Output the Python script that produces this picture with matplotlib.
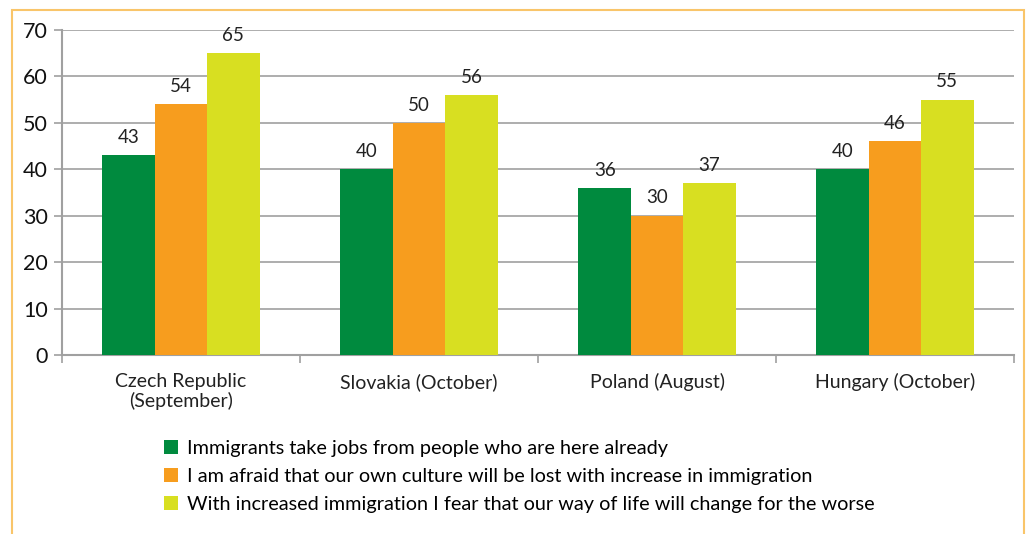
import numpy as np
import matplotlib.pyplot as plt
from matplotlib.patches import Rectangle

categories = ["Czech Republic\n(September)", "Slovakia (October)", "Poland (August)", "Hungary (October)"]
jobs = [43, 40, 36, 40]
culture = [54, 50, 30, 46]
way_of_life = [65, 56, 37, 55]
series_names = [
    "Immigrants take jobs from people who are here already",
    "I am afraid that our own culture will be lost with increase in immigration",
    "With increased immigration I fear that our way of life will change for the worse",
]
colors = ["#008A3E", "#F79D1E", "#D8DF21"]

plt.rcParams['font.family'] = ['Lato', 'DejaVu Sans']

fig = plt.figure(figsize=(10.27, 5.34), dpi=100)
fig.patches.append(Rectangle((12 / 1027, -0.05), (1024 - 12) / 1027, 1.05 - 10 / 534,
                             transform=fig.transFigure, fill=False,
                             edgecolor="#F9C56A", linewidth=1.5))

ax = fig.add_axes([62 / 1027, 1 - 355 / 534, (1014 - 62) / 1027, (355 - 30) / 534])

x = np.arange(len(categories))
w = 0.22
for i, (vals, name, c) in enumerate(zip([jobs, culture, way_of_life], series_names, colors)):
    bars = ax.bar(x + (i - 1) * w, vals, w, color=c, label=name, zorder=3)
    for b, v in zip(bars, vals):
        ax.text(b.get_x() + b.get_width() / 2, v + 2.0, str(v), ha="center", va="bottom",
                fontsize=13.5, color="#222222", zorder=4)

ax.set_xlim(-0.5, len(categories) - 0.5)
ax.set_ylim(0, 70)
ax.set_yticks(range(0, 71, 10))
ax.tick_params(axis="y", labelsize=15.5, length=6, color="#A0A0A0", width=1.2, pad=4,
               labelcolor="#111111")
ax.grid(axis="y", color="#A0A0A0", linewidth=1.2, zorder=0)
ax.set_xticks(x)
ax.set_xticklabels(categories, fontsize=14, color="#222222", linespacing=1.15)
ax.tick_params(axis="x", length=0, pad=13)
ax.set_xticks(np.arange(-0.5, len(categories)), minor=True)
ax.tick_params(axis="x", which="minor", length=6, color="#A0A0A0", width=1.2)
for s in ["top", "right"]:
    ax.spines[s].set_visible(False)
for s in ["left", "bottom"]:
    ax.spines[s].set_color("#A0A0A0")
    ax.spines[s].set_linewidth(1.5)

fig.legend(loc="upper left", bbox_to_anchor=(156 / 1027, 1 - 432 / 534), frameon=False,
           fontsize=14.3, handlelength=0.7, handleheight=0.7, handletextpad=0.45,
           labelspacing=0.55, borderaxespad=0)

fig.savefig("out.png", dpi=100)
